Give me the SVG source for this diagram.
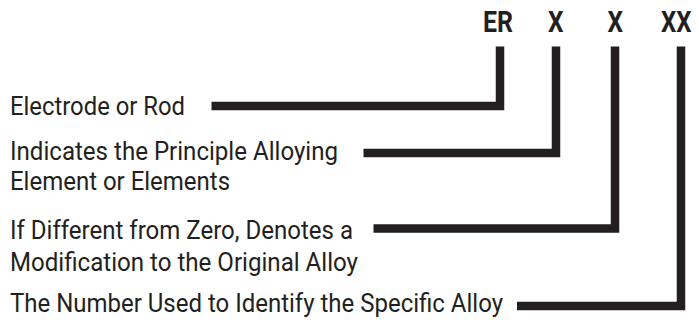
<svg xmlns="http://www.w3.org/2000/svg" width="699" height="320" viewBox="0 0 699 320">
<style>
.lbl{font-family:Roboto,"Liberation Sans",sans-serif;font-size:25.5px;fill:#231f20}
.code{font-family:Roboto,"Liberation Sans",sans-serif;font-size:30px;font-weight:bold;fill:#231f20}
.conn{fill:none;stroke:#231f20;stroke-width:8.5;stroke-linejoin:miter;stroke-linecap:butt}
</style>
<rect width="699" height="320" fill="#ffffff"/>
<g id="codes">
<text class="code" x="483" y="31.5" textLength="30" lengthAdjust="spacingAndGlyphs">ER</text>
<text class="code" x="548" y="31.5" textLength="15.5" lengthAdjust="spacingAndGlyphs">X</text>
<text class="code" x="607.5" y="31.5" textLength="15.5" lengthAdjust="spacingAndGlyphs">X</text>
<text class="code" x="661" y="31.5" textLength="30.5" lengthAdjust="spacingAndGlyphs">XX</text>
</g>
<g id="node-er">
<text class="lbl" x="10" y="115" textLength="175" lengthAdjust="spacingAndGlyphs">Electrode or Rod</text>
</g>
<g id="node-x1">
<text class="lbl" x="10" y="160" textLength="328" lengthAdjust="spacingAndGlyphs">Indicates the Principle Alloying</text>
<text class="lbl" x="10" y="190" textLength="220" lengthAdjust="spacingAndGlyphs">Element or Elements</text>
</g>
<g id="node-x2">
<text class="lbl" x="10" y="238.5" textLength="343" lengthAdjust="spacingAndGlyphs">If Different from Zero, Denotes a</text>
<text class="lbl" x="10" y="270.5" textLength="348" lengthAdjust="spacingAndGlyphs">Modification to the Original Alloy</text>
</g>
<g id="node-xx">
<text class="lbl" x="10" y="311.5" textLength="493" lengthAdjust="spacingAndGlyphs">The Number Used to Identify the Specific Alloy</text>
</g>
<g id="connectors">
<polyline class="conn" points="211.5,106 500,106 500,46.5"/>
<polyline class="conn" points="363.5,153 556,153 556,46.5"/>
<polyline class="conn" points="373.5,228.5 615,228.5 615,46.5"/>
<polyline class="conn" points="517,306 681,306 681,46.5"/>
</g>
</svg>
